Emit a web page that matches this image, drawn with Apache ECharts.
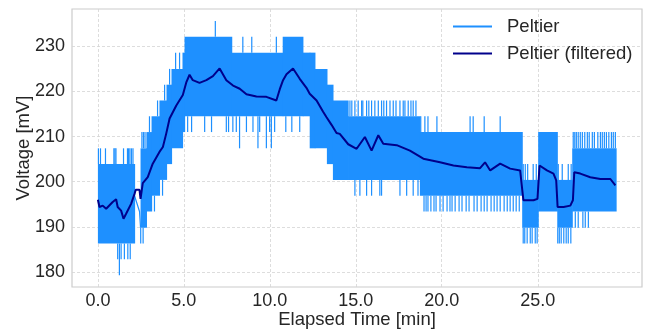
<!DOCTYPE html>
<html><head><meta charset="utf-8">
<script src="https://cdn.jsdelivr.net/npm/echarts@6/dist/echarts.min.js"></script>
<style>html,body{margin:0;padding:0;background:#fff}#c{width:650px;height:333px}</style>
</head><body><div id="c"></div>
<script>
// ---- tick positions / labels ----
const xTickPos = [0, 5, 10, 15, 20, 25.59];
const xTickLabels = ['0.0', '5.0', '10.0', '15.0', '20.0', '25.0'];
const yTickPos = [180, 190, 200, 210, 220, 230];
const yTickLabels = ['180', '190', '200', '210', '220', '230'];

// ---- raw "Peltier" signal: envelope runs [tStart, tEnd, low, high] (mV) ----
const rawRuns = [
  [0.00, 2.13, 186.3, 203.9],
  [2.48, 2.82, 189.8, 207.4],
  [2.82, 3.12, 193.4, 211.0],
  [3.12, 3.58, 196.9, 214.5],
  [3.58, 3.99, 200.4, 218.0],
  [3.99, 4.28, 203.9, 221.5],
  [4.28, 4.92, 207.4, 225.0],
  [4.92, 5.04, 211.0, 228.6],
  [5.04, 7.78, 214.5, 232.1],
  [7.78, 10.75, 214.5, 228.6],
  [10.75, 11.92, 214.5, 232.1],
  [11.92, 12.32, 214.5, 228.6],
  [12.32, 12.62, 207.4, 228.6],
  [12.62, 13.32, 207.4, 225.0],
  [13.32, 13.67, 203.9, 221.5],
  [13.67, 14.55, 200.4, 218.0],
  [14.55, 18.73, 200.4, 214.5],
  [18.73, 24.68, 196.9, 211.0],
  [24.68, 25.61, 189.8, 200.4],
  [25.61, 26.72, 193.4, 211.0],
  [26.72, 27.59, 189.8, 200.4],
  [27.59, 30.14, 193.4, 207.4]
];
// raw samples across the sampling gap
const rawGapT = [2.13, 2.42, 2.48];
const rawGapV = [196.9, 193.4, 189.8];
// raw single-sample excursions beyond the envelope: times and values
const spikeT = [
  0.03, 0.15, 0.44, 0.93, 0.99, 1.05, 1.49, 1.72, 1.78, 1.86, 1.95, 2.04,
  1.15, 1.35, 1.54, 1.74, 1.88, 1.25,
  2.49, 2.63, 2.56, 2.65, 2.74, 3.00, 3.47, 3.88, 4.17, 4.52, 4.75, 3.29, 3.76,
  6.83, 8.43, 8.95, 10.38,
  5.22, 5.45, 6.21, 6.61, 7.47, 7.60, 7.85, 8.05, 8.64, 9.02, 9.41, 9.99, 10.28, 10.93, 11.28, 11.74,
  8.24, 9.31, 9.80, 10.09,
  14.46, 14.66, 14.77, 14.95, 15.14, 15.34, 15.41, 15.63, 15.76, 15.92, 16.11, 16.31, 16.50, 16.63, 16.79, 16.99, 17.18, 17.34, 17.57, 17.76, 17.86, 18.05, 18.21, 18.34, 18.50,
  14.95, 15.24, 15.63, 15.92, 16.40, 16.50, 17.57, 17.96, 18.34, 18.62,
  18.78, 19.02, 19.20, 19.72, 21.65, 21.83, 22.47, 23.40,
  18.97, 19.09, 19.20, 19.37, 19.55, 19.67, 19.90, 20.08, 20.31, 20.48, 20.60, 20.78, 21.01, 21.18, 21.42, 21.59, 21.88, 22.06, 22.29, 22.47, 22.64, 22.87, 23.05, 23.22, 23.40, 23.63, 23.81, 23.98, 24.16, 24.33, 24.51,
  24.74, 24.83, 24.97, 25.15, 25.26, 25.44, 25.55,
  24.74, 24.86, 25.00, 25.32, 25.50,
  26.75, 26.84, 26.95, 27.10, 27.24, 27.36, 27.51,
  26.78, 27.01, 27.36, 27.53,
  27.65, 27.74, 27.83, 27.94, 28.06, 28.18, 28.32, 28.47, 28.58, 28.76, 28.88, 29.08, 29.23, 29.34, 29.46, 29.58, 29.72, 29.87, 29.98, 30.10,
  27.77, 27.94, 28.21, 28.35, 28.53
];
const spikeV = [
  207.4, 207.4, 207.4, 207.4, 207.4, 207.4, 207.4, 207.4, 207.4, 207.4, 207.4, 207.4,
  182.8, 182.8, 182.8, 182.8, 182.8, 179.3,
  186.3, 186.3, 211.0, 211.0, 211.0, 214.5, 218.0, 221.5, 225.0, 228.6, 228.6, 193.4, 196.9,
  235.6, 232.1, 232.1, 232.1,
  211.0, 211.0, 211.0, 211.0, 211.0, 211.0, 211.0, 211.0, 211.0, 211.0, 211.0, 211.0, 211.0, 211.0, 211.0, 211.0,
  207.4, 207.4, 207.4, 207.4,
  218.0, 218.0, 218.0, 218.0, 218.0, 218.0, 218.0, 218.0, 218.0, 218.0, 218.0, 218.0, 218.0, 218.0, 218.0, 218.0, 218.0, 218.0, 218.0, 218.0, 218.0, 218.0, 218.0, 218.0, 218.0,
  196.9, 196.9, 196.9, 196.9, 196.9, 196.9, 196.9, 196.9, 196.9, 196.9,
  214.5, 214.5, 214.5, 214.5, 214.5, 214.5, 214.5, 214.5,
  193.4, 193.4, 193.4, 193.4, 193.4, 193.4, 193.4, 193.4, 193.4, 193.4, 193.4, 193.4, 193.4, 193.4, 193.4, 193.4, 193.4, 193.4, 193.4, 193.4, 193.4, 193.4, 193.4, 193.4, 193.4, 193.4, 193.4, 193.4, 193.4, 193.4, 193.4,
  186.3, 186.3, 186.3, 186.3, 186.3, 186.3, 186.3,
  203.9, 203.9, 203.9, 203.9, 203.9,
  186.3, 186.3, 186.3, 186.3, 186.3, 186.3, 186.3,
  203.9, 203.9, 203.9, 203.9,
  211.0, 211.0, 211.0, 211.0, 211.0, 211.0, 211.0, 211.0, 211.0, 211.0, 211.0, 211.0, 211.0, 211.0, 211.0, 211.0, 211.0, 211.0, 211.0, 211.0,
  189.8, 189.8, 189.8, 189.8, 189.8
];

// ---- filtered signal ----
const filtT = [0, 0.09, 0.28, 0.48, 0.86, 1.06, 1.15, 1.35, 1.49, 1.64, 1.93, 2.13, 2.20, 2.42, 2.48, 2.61, 2.90, 3.19, 3.58, 3.78, 3.97, 4.17, 4.56, 4.94, 5.14, 5.33, 5.52, 5.91, 6.31, 6.69, 7.08, 7.47, 7.86, 8.25, 8.64, 9.22, 9.80, 10.38, 10.58, 10.77, 10.97, 11.35, 11.74, 12.13, 12.32, 12.72, 13.10, 13.30, 13.59, 13.88, 14.07, 14.56, 14.66, 15.05, 15.53, 15.92, 16.31, 16.60, 17.38, 18.15, 18.93, 19.90, 20.68, 21.46, 22.23, 22.52, 22.82, 23.40, 23.98, 24.56, 24.66, 24.75, 25.04, 25.34, 25.57, 25.69, 26.12, 26.50, 26.66, 26.74, 27.09, 27.48, 27.63, 27.71, 28.06, 28.64, 29.23, 29.81, 30.10];
const filtV = [196.0, 194.4, 194.7, 194.0, 195.5, 196.1, 194.4, 193.6, 191.8, 192.9, 195.1, 197.3, 198.2, 198.2, 196.2, 199.7, 201.0, 204.0, 206.6, 207.7, 210.6, 214.0, 216.9, 219.2, 222.0, 223.7, 222.5, 221.9, 222.5, 223.4, 225.1, 222.5, 221.3, 220.6, 219.4, 218.9, 218.8, 218.0, 220.5, 222.5, 223.8, 225.1, 222.8, 220.8, 219.5, 218.0, 215.5, 214.3, 212.6, 210.8, 210.6, 208.3, 208.1, 207.3, 209.9, 206.9, 210.3, 208.4, 208.1, 206.9, 205.1, 204.3, 203.6, 203.2, 203.0, 204.3, 202.5, 204.0, 202.9, 202.5, 202.5, 195.9, 195.9, 195.9, 196.2, 203.6, 202.5, 201.8, 200.3, 194.4, 194.4, 194.7, 195.9, 202.1, 201.8, 201.0, 200.6, 200.6, 199.2];

const RAW_COLOR = '#1E90FF';
const FILT_COLOR = '#00008B';
const TEXT = '#262626';
const FONT = 'Liberation Sans';

function edgeFor(t, v) {
  for (const r of rawRuns) {
    if (t >= r[0] && t <= r[1]) return v > r[3] ? r[3] : (v < r[2] ? r[2] : v);
  }
  return v;
}
const spikeData = spikeT.map((t, i) => [t, spikeV[i], edgeFor(t, spikeV[i])]);
const gapData = rawGapT.map((t, i) => [t, rawGapV[i]]);
const filtData = filtT.map((t, i) => [t, filtV[i]]);

const chart = echarts.init(document.getElementById('c'), null, {renderer: 'canvas'});
chart.setOption({
  animation: false,
  backgroundColor: '#fff',
  grid: {left: 72, top: 9, width: 570, height: 278, outerBoundsMode: 'none', containLabel: false,
    show: true, borderColor: '#cccccc', borderWidth: 1.2, backgroundColor: 'transparent'},
  legend: {
    orient: 'vertical', left: 453, top: 17, padding: 0, itemWidth: 39, itemHeight: 2, itemGap: 8,
    icon: 'rect',
    textStyle: {color: TEXT, fontSize: 18.5, fontFamily: FONT, lineHeight: 18, padding: [0, 0, 0, 10]},
    data: [{name: 'Peltier', itemStyle: {color: RAW_COLOR}}, {name: 'Peltier (filtered)', itemStyle: {color: FILT_COLOR}}]
  },
  xAxis: {
    type: 'value', min: -1.507, max: 31.65,
    name: 'Elapsed Time [min]', nameLocation: 'middle', nameGap: 23, nameMoveOverlap: false,
    nameTextStyle: {color: TEXT, fontSize: 18.5, fontFamily: FONT},
    axisLine: {show: false},
    axisTick: {show: false, customValues: xTickPos},
    axisLabel: {customValues: xTickPos, color: TEXT, fontSize: 18, fontFamily: FONT, margin: 5,
      formatter: v => { const i = xTickPos.findIndex(p => Math.abs(p - v) < 1e-6); return i >= 0 ? xTickLabels[i] : ''; }},
    splitLine: {show: true, lineStyle: {color: '#d4d4d4', width: 0.8, type: [3, 2]}}
  },
  yAxis: {
    type: 'value', min: 176.67, max: 238.27,
    name: 'Voltage [mV]', nameLocation: 'middle', nameGap: 39, nameMoveOverlap: false,
    nameTextStyle: {color: TEXT, fontSize: 18.5, fontFamily: FONT},
    axisLine: {show: false},
    axisTick: {show: false, customValues: yTickPos},
    axisLabel: {customValues: yTickPos, color: TEXT, fontSize: 18, fontFamily: FONT, margin: 7,
      formatter: v => { const i = yTickPos.findIndex(p => Math.abs(p - v) < 1e-6); return i >= 0 ? yTickLabels[i] : ''; }},
    splitLine: {show: true, lineStyle: {color: '#d4d4d4', width: 0.8, type: [3, 2]}}
  },
  series: [
    {
      name: 'Peltier', type: 'custom', z: 2, itemStyle: {color: RAW_COLOR},
      encode: {x: [0, 1], y: [2, 3]},
      data: rawRuns,
      renderItem: (params, api) => {
        const a = api.coord([api.value(0), api.value(3)]);
        const b = api.coord([api.value(1), api.value(2)]);
        return {type: 'rect', shape: {x: a[0], y: a[1], width: b[0] - a[0] + 0.6, height: b[1] - a[1]}, style: {fill: RAW_COLOR}};
      }
    },
    {
      name: 'Peltier', type: 'custom', z: 2, itemStyle: {color: RAW_COLOR},
      encode: {x: 0, y: [1, 2]},
      data: spikeData,
      renderItem: (params, api) => {
        const a = api.coord([api.value(0), api.value(1)]);
        const b = api.coord([api.value(0), api.value(2)]);
        return {type: 'line', shape: {x1: a[0], y1: a[1], x2: b[0], y2: b[1]}, style: {stroke: RAW_COLOR, lineWidth: 1.2}};
      }
    },
    {
      name: 'Peltier', type: 'line', z: 2, data: gapData, symbol: 'none',
      lineStyle: {color: RAW_COLOR, width: 1.2}, itemStyle: {color: RAW_COLOR}
    },
    {
      name: 'Peltier (filtered)', type: 'line', z: 3, data: filtData, symbol: 'none',
      lineStyle: {color: FILT_COLOR, width: 2}, itemStyle: {color: FILT_COLOR}
    }
  ]
});
</script></body></html>
